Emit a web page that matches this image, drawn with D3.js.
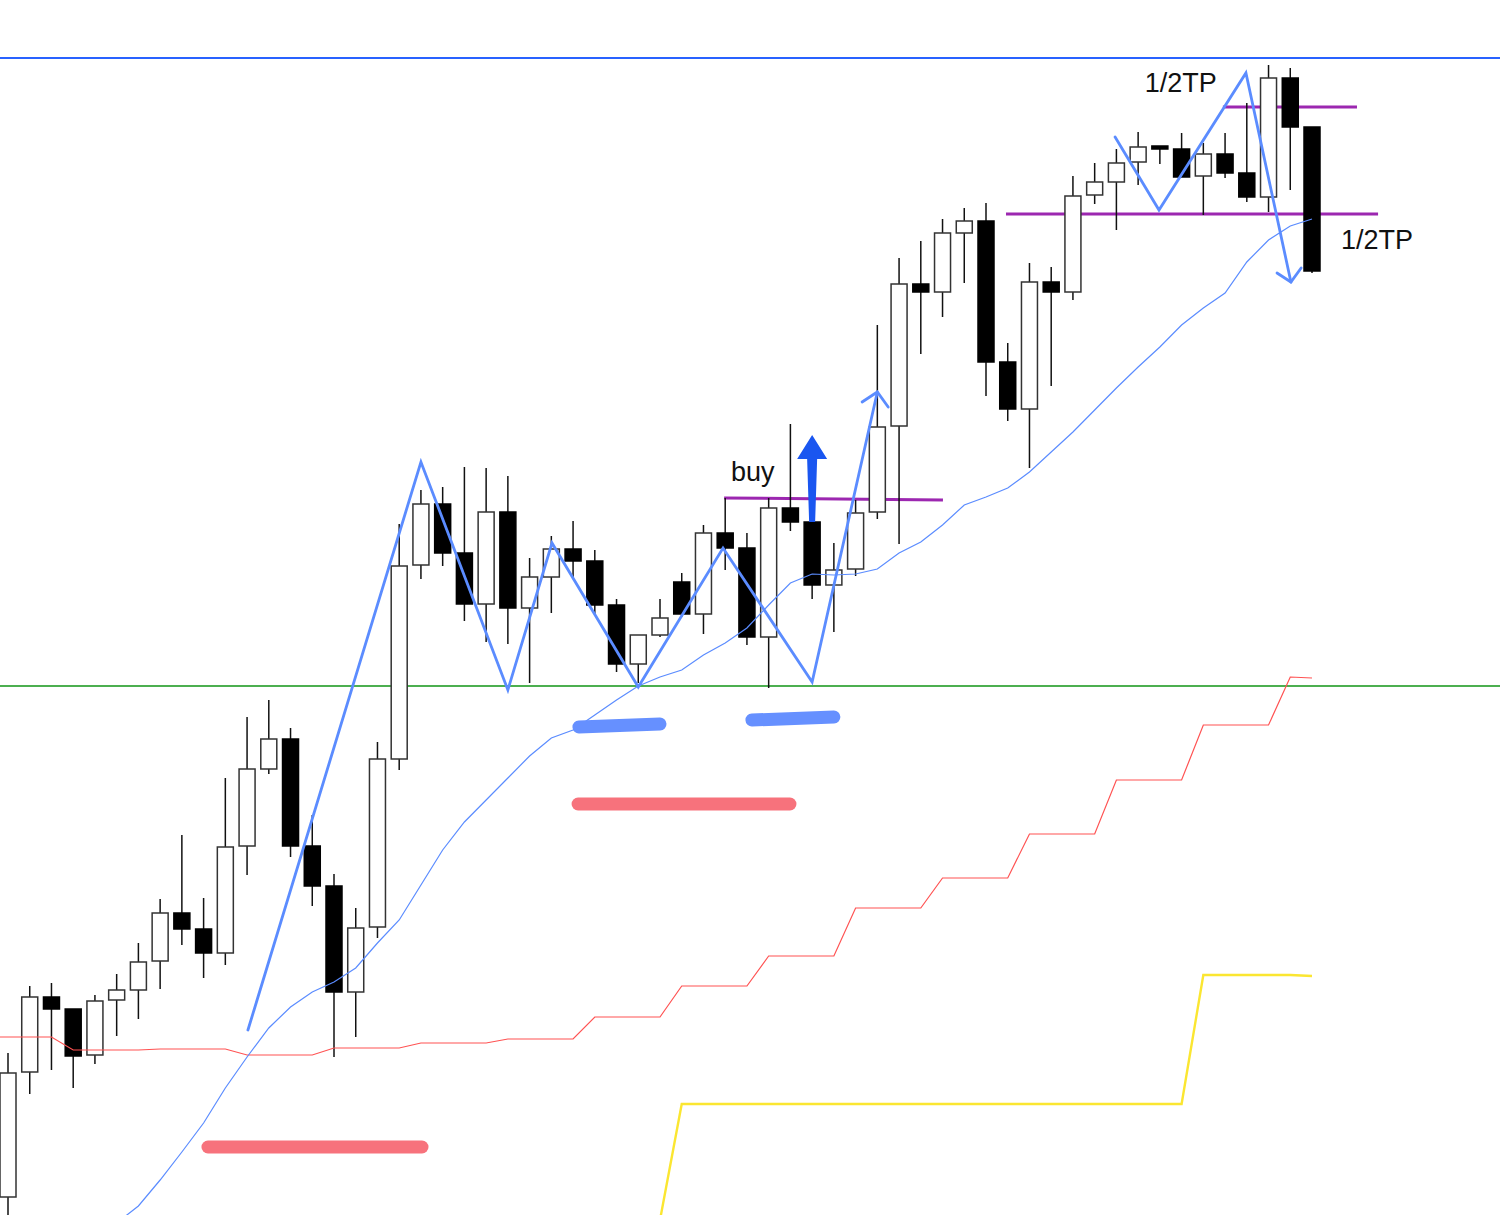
<!DOCTYPE html>
<html><head><meta charset="utf-8">
<script src="https://cdn.jsdelivr.net/npm/d3@7"></script>
<style>html,body{margin:0;padding:0;background:#fff;}svg{display:block;}</style>
</head><body>
<svg id="chart" width="1500" height="1215"></svg>
<script>
// ---- data (price units) ----
const opens  = [18,143,218,206,160,215,225,254,302,286,262,369,446,476,369,329,223,288,456,650,711,662,611,703,607,638,666,654,610,551,580,633,601,682,667,578,707,693,630,646,703,789,931,923,982,994,853,806,933,923,1020,1033,1053,1069,1066,1039,1061,1042,1018,1137,1088];
const highs  = [162,229,232,206,220,241,272,316,380,317,437,498,515,487,400,341,307,473,691,725,728,748,747,739,657,679,694,665,616,580,616,642,690,717,682,717,791,712,672,715,890,957,974,996,1007,1012,872,952,948,1039,1052,1066,1083,1069,1082,1072,1082,1112,1150,1147,1088];
const lows   = [-7,121,145,127,151,179,196,226,270,237,250,340,441,358,309,158,178,277,445,636,649,594,573,571,532,602,638,600,543,532,578,598,581,645,570,527,684,616,583,639,696,671,861,898,932,819,794,747,829,915,1011,985,1030,1051,1038,1000,1037,1013,1003,1025,942];
const closes = [142,218,206,159,214,225,253,302,286,262,368,446,476,369,329,223,287,456,649,711,662,611,703,607,638,666,654,610,551,580,597,601,682,667,578,707,693,630,645,702,788,931,923,982,994,853,806,933,923,1019,1033,1052,1068,1066,1038,1061,1042,1018,1137,1088,944];
const maShort = [-85,-70,-53,-37,-23,-8,9,35,63,92,127,158,187,208,223,233,247,272,295,330,365,393,415,437,459,477,485,500,515,529,538,545,560,572,587,610,632,641,640,641,646,662,673,690,710,718,727,743,763,783,805,827,848,868,890,907,922,953,975,989,996];
const maMid = [178,178,178,165,165,165,165,166,166,166,166,160,160,160,160,167,167,167,167,172,172,172,172,176,176,176,176,198,198,198,198,229,229,229,229,259,259,259,259,307,307,307,307,337,337,337,337,381,381,381,381,435,435,435,435,490,490,490,490,538,537];
const maLong = [null,null,null,null,null,null,null,null,null,null,null,null,null,null,null,null,null,null,null,null,null,null,null,null,null,null,null,null,null,null,-5,111,111,111,111,111,111,111,111,111,111,111,111,111,111,111,111,111,111,111,111,111,111,111,111,240,240,240,240,240,239];

const resistance = 1157;   // blue horizontal
const support = 529;       // green horizontal
const zigzagA = [[11.04,185],[19.0,753],[23.0,525],[25.03,672],[29.0,528],[32.9,667],[37.0,533],[40.0,823]];
const zigzagAHead = [[39.3,813],[40.0,823],[40.5,808]];
const zigzagB = [[50.94,1078],[52.96,1005],[56.96,1142],[59.03,933]];
const zigzagBHead = [[58.39,942],[59.03,933],[59.5,947]];
const purpleLines = [[[32.95,717],[43.02,715]],[[45.92,1001],[63.04,1001]],[[55.9,1108],[62.07,1108]]];
const blueMarks = [[[26.27,488],[30.0,491]],[[34.23,495],[38.0,498]]];
const redMarks = [[[26.23,411],[35.98,411]],[[9.2,68],[19.05,68]]];
const entryArrow = {i:37, from:693, to:780};
const labels = [{t:"buy", i:33.27, p:734},{t:"1/2TP", i:52.3, p:1123},{t:"1/2TP", i:61.33, p:966}];

// ---- scales ----
const W = 1500, H = 1215;
const x = d3.scaleLinear().domain([0, 60]).range([8, 1312]);
const y = d3.scaleLinear().domain([0, 1215]).range([1215, 0]);
const svg = d3.select("#chart");
const line = d3.line().x(d => x(d[0])).y(d => y(d[1]));

// horizontal levels
svg.append("line").attr("x1",0).attr("x2",W).attr("y1",y(resistance)).attr("y2",y(resistance))
  .attr("stroke","#2962ff").attr("stroke-width",2);
svg.append("line").attr("x1",0).attr("x2",W).attr("y1",y(support)).attr("y2",y(support))
  .attr("stroke","#4caf50").attr("stroke-width",2);

// purple lines (under candles)
purpleLines.forEach(l => svg.append("path").attr("d", line(l)).attr("fill","none")
  .attr("stroke","#9c27b0").attr("stroke-width",3));

// candles
const data = d3.range(opens.length).map(i => ({i, o:opens[i], h:highs[i], l:lows[i], c:closes[i]}));
const bw = 16;
const g = svg.append("g");
g.selectAll("line.wick").data(data).join("line").attr("class","wick")
  .attr("x1", d => x(d.i)).attr("x2", d => x(d.i))
  .attr("y1", d => y(d.h)).attr("y2", d => y(d.l))
  .attr("stroke","#111").attr("stroke-width",1.5);
g.selectAll("rect.body").data(data).join("rect").attr("class","body")
  .attr("x", d => x(d.i) - bw/2).attr("width", bw)
  .attr("y", d => y(Math.max(d.o, d.c)))
  .attr("height", d => Math.max(2, Math.abs(y(d.o) - y(d.c))))
  .attr("fill", d => d.c >= d.o ? "#fff" : "#000")
  .attr("stroke", d => d.c >= d.o ? "#333" : "#000").attr("stroke-width",1.5);

// moving averages (first value carried to the left edge)
const toPts = arr => {
  const pts = arr.map((v,i) => [i, v]);
  const first = pts.find(p => p[1] != null);
  if (first && first[0] === 0) pts.unshift([x.invert(0), first[1]]);
  return pts;
};
const maLine = d3.line().defined(d => d[1] != null).x(d => x(d[0])).y(d => y(d[1]));
svg.append("path").attr("d", maLine(toPts(maMid))).attr("fill","none").attr("stroke","#ff5252").attr("stroke-width",1.2);
svg.append("path").attr("d", maLine(toPts(maLong))).attr("fill","none").attr("stroke","#fbe631").attr("stroke-width",2.4);
svg.append("path").attr("d", maLine(toPts(maShort))).attr("fill","none").attr("stroke","#5b8cff").attr("stroke-width",1.2);

// thick marker strokes
blueMarks.forEach(l => svg.append("path").attr("d", line(l)).attr("fill","none")
  .attr("stroke","#6690ff").attr("stroke-width",13).attr("stroke-linecap","round"));
redMarks.forEach(l => svg.append("path").attr("d", line(l)).attr("fill","none")
  .attr("stroke","#f7727c").attr("stroke-width",13).attr("stroke-linecap","round"));

// zigzags
[zigzagA, zigzagAHead, zigzagB, zigzagBHead].forEach(z => svg.append("path").attr("d", line(z))
  .attr("fill","none").attr("stroke","#5b8cff").attr("stroke-width",2.8)
  .attr("stroke-linejoin","miter").attr("stroke-linecap","round"));

// entry arrow
{
  const cx = x(entryArrow.i), yb = y(entryArrow.from), yt = y(entryArrow.to);
  const headH = 24, headW = 15;
  const pts = [[cx-3, yb],[cx-5, yt+headH],[cx-headW, yt+headH],[cx, yt],[cx+headW, yt+headH],[cx+5, yt+headH],[cx+3, yb]];
  svg.append("polygon").attr("points", pts.map(p => p.join(",")).join(" ")).attr("fill","#1a56f0");
}

// labels
svg.selectAll("text.lbl").data(labels).join("text").attr("class","lbl")
  .attr("x", d => x(d.i)).attr("y", d => y(d.p)).text(d => d.t)
  .attr("font-family","Liberation Sans, Arial, sans-serif").attr("font-size",27).attr("fill","#111");
</script>
</body></html>
